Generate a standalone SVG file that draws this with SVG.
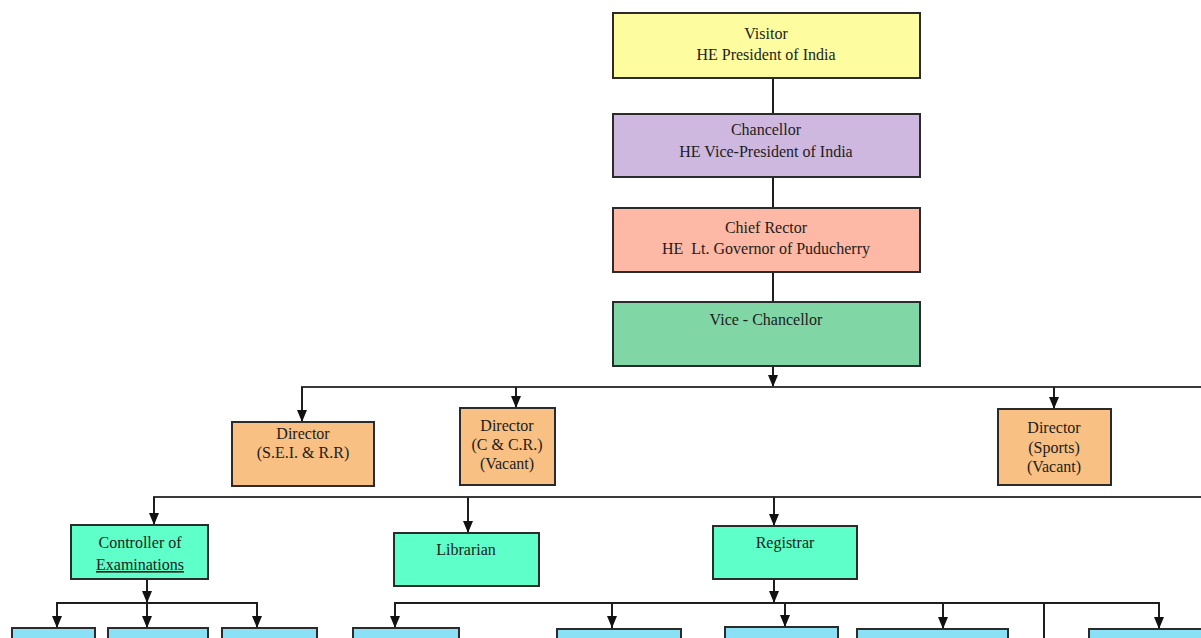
<svg xmlns="http://www.w3.org/2000/svg" width="1201" height="638" viewBox="0 0 1201 638">
  <style>
    .box { stroke: #2b2b2b; stroke-width: 2; }
    .t { font-family: "Liberation Serif", "Times New Roman", serif; font-size: 16px; fill: #1c1c1c; text-anchor: middle; }
    .w { stroke: #1e1e1e; stroke-width: 2; fill: none; }
    .h { stroke: #3a3a3a; stroke-width: 2; fill: none; }
    .yellow { fill: #fdfd9f; }
    .lavender { fill: #cfb8e0; }
    .salmon { fill: #fdb9a5; }
    .green { fill: #80d6a5; }
    .orange { fill: #f9c083; }
    .aqua { fill: #5effc9; }
    .sky { fill: #8ae0f5; }
  </style>
  <defs>
    <marker id="arrow" viewBox="0 0 12 10" markerWidth="12" markerHeight="10" refX="12" refY="5" orient="auto" markerUnits="userSpaceOnUse">
      <path d="M0,0 L12,5 L0,10 z" fill="#111"/>
    </marker>
  </defs>

  <rect width="1201" height="638" fill="#ffffff"/>

  <!-- connectors -->
  <g id="connectors">
    <line class="w" x1="773" y1="78" x2="773" y2="114"/>
    <line class="w" x1="773" y1="177" x2="773" y2="208"/>
    <line class="w" x1="773" y1="272" x2="773" y2="302"/>
    <line class="w" x1="773" y1="366" x2="773" y2="387" marker-end="url(#arrow)"/>
    <line class="h" x1="301" y1="387" x2="1201" y2="387"/>
    <line class="w" x1="302" y1="387" x2="302" y2="422" marker-end="url(#arrow)"/>
    <line class="w" x1="516" y1="387" x2="516" y2="408" marker-end="url(#arrow)"/>
    <line class="w" x1="1054" y1="387" x2="1054" y2="409" marker-end="url(#arrow)"/>

    <line class="h" x1="153" y1="497" x2="1201" y2="497"/>
    <line class="w" x1="154" y1="497" x2="154" y2="525" marker-end="url(#arrow)"/>
    <line class="w" x1="468" y1="497" x2="468" y2="533" marker-end="url(#arrow)"/>
    <line class="w" x1="774" y1="497" x2="774" y2="526" marker-end="url(#arrow)"/>

    <line class="w" x1="147" y1="579" x2="147" y2="603" marker-end="url(#arrow)"/>
    <line class="w" x1="56" y1="603" x2="258" y2="603"/>
    <line class="w" x1="57" y1="603" x2="57" y2="628" marker-end="url(#arrow)"/>
    <line class="w" x1="147" y1="603" x2="147" y2="628" marker-end="url(#arrow)"/>
    <line class="w" x1="257" y1="603" x2="257" y2="628" marker-end="url(#arrow)"/>

    <line class="w" x1="774" y1="579" x2="774" y2="603" marker-end="url(#arrow)"/>
    <line class="w" x1="394" y1="603" x2="1160" y2="603"/>
    <line class="w" x1="395" y1="603" x2="395" y2="628" marker-end="url(#arrow)"/>
    <line class="w" x1="612" y1="603" x2="612" y2="628" marker-end="url(#arrow)"/>
    <line class="w" x1="785" y1="603" x2="785" y2="627" marker-end="url(#arrow)"/>
    <line class="w" x1="943" y1="603" x2="943" y2="629" marker-end="url(#arrow)"/>
    <line class="w" x1="1159" y1="603" x2="1159" y2="629" marker-end="url(#arrow)"/>
    <line class="w" x1="1044" y1="603" x2="1044" y2="638"/>
  </g>

  <!-- top chain -->
  <g id="visitor">
    <rect class="box yellow" x="613" y="13" width="307" height="65"/>
    <text class="t" x="766" y="39">Visitor</text>
    <text class="t" x="766" y="60">HE President of India</text>
  </g>
  <g id="chancellor">
    <rect class="box lavender" x="613" y="114" width="307" height="63"/>
    <text class="t" x="766" y="135">Chancellor</text>
    <text class="t" x="766" y="157">HE Vice-President of India</text>
  </g>
  <g id="chief-rector">
    <rect class="box salmon" x="613" y="208" width="307" height="64"/>
    <text class="t" x="766" y="233">Chief Rector</text>
    <text class="t" x="766" y="254" xml:space="preserve">HE  Lt. Governor of Puducherry</text>
  </g>
  <g id="vice-chancellor">
    <rect class="box green" x="613" y="302" width="307" height="64"/>
    <text class="t" x="766" y="325">Vice - Chancellor</text>
  </g>

  <!-- directors -->
  <g id="director-sei">
    <rect class="box orange" x="232" y="422" width="142" height="64"/>
    <text class="t" x="303" y="439">Director</text>
    <text class="t" x="303" y="458">(S.E.I. &amp; R.R)</text>
  </g>
  <g id="director-ccr">
    <rect class="box orange" x="460" y="408" width="95" height="77"/>
    <text class="t" x="507" y="431">Director</text>
    <text class="t" x="507" y="450">(C &amp; C.R.)</text>
    <text class="t" x="507" y="469">(Vacant)</text>
  </g>
  <g id="director-sports">
    <rect class="box orange" x="998" y="409" width="113" height="76"/>
    <text class="t" x="1054" y="433">Director</text>
    <text class="t" x="1054" y="453">(Sports)</text>
    <text class="t" x="1054" y="472">(Vacant)</text>
  </g>

  <!-- officers -->
  <g id="controller">
    <rect class="box aqua" x="71" y="525" width="137" height="54"/>
    <text class="t" x="140" y="548">Controller of</text>
    <text class="t" x="140" y="570" text-decoration="underline">Examinations</text>
  </g>
  <g id="librarian">
    <rect class="box aqua" x="394" y="533" width="145" height="53"/>
    <text class="t" x="466" y="555">Librarian</text>
  </g>
  <g id="registrar">
    <rect class="box aqua" x="713" y="526" width="144" height="53"/>
    <text class="t" x="785" y="548">Registrar</text>
  </g>

  <!-- lower units -->
  <g id="unit-1"><rect class="box sky" x="12" y="628" width="83" height="30"/></g>
  <g id="unit-2"><rect class="box sky" x="108" y="628" width="100" height="30"/></g>
  <g id="unit-3"><rect class="box sky" x="222" y="628" width="95" height="30"/></g>
  <g id="unit-4"><rect class="box sky" x="353" y="628" width="106" height="30"/></g>
  <g id="unit-5"><rect class="box sky" x="557" y="629" width="124" height="30"/></g>
  <g id="unit-6"><rect class="box sky" x="725" y="627" width="113" height="30"/></g>
  <g id="unit-7"><rect class="box sky" x="857" y="629" width="151" height="30"/></g>
  <g id="unit-8"><rect class="box sky" x="1089" y="629" width="130" height="30"/></g>
</svg>
